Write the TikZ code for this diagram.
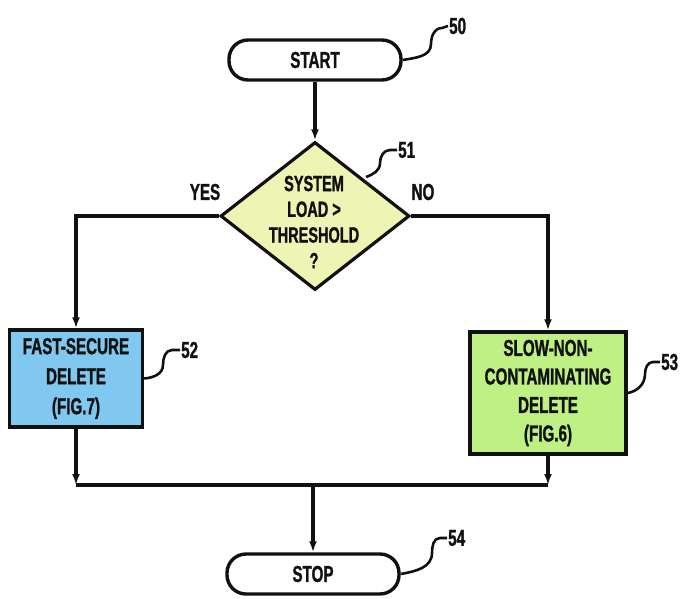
\documentclass[tikz,border=0pt]{standalone}
\usepackage{fontspec}
\usetikzlibrary{arrows.meta, shapes.geometric}
\newfontfamily\patfont{Liberation Sans}[FakeStretch=0.66, FakeBold=1.2]
\definecolor{inkcolor}{HTML}{111111}
\definecolor{askfill}{HTML}{EEF5B4}
\definecolor{fastfill}{HTML}{80C8F0}
\definecolor{slowfill}{HTML}{BEF084}

\begin{document}
\begin{tikzpicture}[
    x=1pt, y=-1pt,
    every node/.style={font=\patfont\bfseries\fontsize{23}{30}\selectfont, text=inkcolor},
    term/.style={draw=inkcolor, line width=3.4pt, rounded corners=19pt, minimum width=172pt, minimum height=40pt, inner sep=0pt},
    decision/.style={diamond, draw=inkcolor, fill=askfill, line width=3.2pt, minimum width=189pt, minimum height=148pt, inner sep=0pt},
    dtext/.style={align=center, font=\patfont\bfseries\fontsize{22}{25.7}\selectfont},
    process/.style={draw=inkcolor, line width=3.4pt, align=center, inner sep=0pt},
    wire/.style={draw=inkcolor, line width=3.4pt},
    arr/.style={-{Latex[length=11pt, width=8pt]}, draw=inkcolor, line width=3.4pt},
    lead/.style={draw=inkcolor, line width=2.6pt},
    refnum/.style={anchor=west, inner sep=1pt},
]
\useasboundingbox (0,0) rectangle (684,598);

% ---------------------------------------------------------- boxes
\node[term] (start) at (315,60) {START};
\node[decision] (test) at (315,216) {};
\node[dtext] (testtext) at (314,222) {SYSTEM\\LOAD >\\THRESHOLD\\?};
\node[process, fill=fastfill, minimum width=133pt, minimum height=97pt]
    (fast) at (76,378.5) {FAST-SECURE\\DELETE\\(FIG.7)};
\node[process, fill=slowfill, minimum width=156pt, minimum height=122pt,
      font=\patfont\bfseries\fontsize{23}{28.5}\selectfont]
    (slow) at (548,393) {SLOW-NON-\\CONTAMINATING\\DELETE\\(FIG.6)};
\node[term] (stop) at (313,574) {STOP};

% ---------------------------------------------------------- branch words
\node (yes) at (205,192) {YES};
\node (no) at (423,192) {NO};

% ---------------------------------------------------------- connectors
\coordinate (joinL) at (76,485);
\coordinate (joinR) at (548,485);
\coordinate (joinM) at (313,485);

\draw[arr] (start) -- (test);
\draw[arr] (test.west) -| (fast.north);
\draw[arr] (test.east) -| (slow.north);
\draw[arr] (fast.south) -- (joinL);
\draw[arr] (slow.south) -- (joinR);
\draw[wire] (joinL) -- (joinR);
\draw[arr] (joinM) -- (stop.north);

% ---------------------------------------------------------- reference numerals
\node[refnum] (lab50) at (448,26) {50};
\node[refnum] (lab51) at (397,150) {51};
\node[refnum] (lab52) at (180,350) {52};
\node[refnum] (lab53) at (660,362) {53};
\node[refnum] (lab54) at (447,538) {54};

\draw[lead] (start.east) to[out=10, in=-90] (431,44)
    to[out=90, in=180] (442,28) -- (lab50.west);
\draw[lead] (366,177) to[out=20, in=-90] (380,163)
    to[out=90, in=180] (390,150) -- (lab51.west);
\draw[lead] (fast.east) to[out=5, in=-90] (163,365)
    to[out=90, in=180] (172,350) -- (lab52.west);
\draw[lead] (slow.east) to[out=10, in=-90] (645,374)
    to[out=90, in=180] (653,362) -- (lab53.west);
\draw[lead] (stop.east) to[out=10, in=-90] (432,553)
    to[out=90, in=180] (440,538) -- (lab54.west);

\end{tikzpicture}
\end{document}
